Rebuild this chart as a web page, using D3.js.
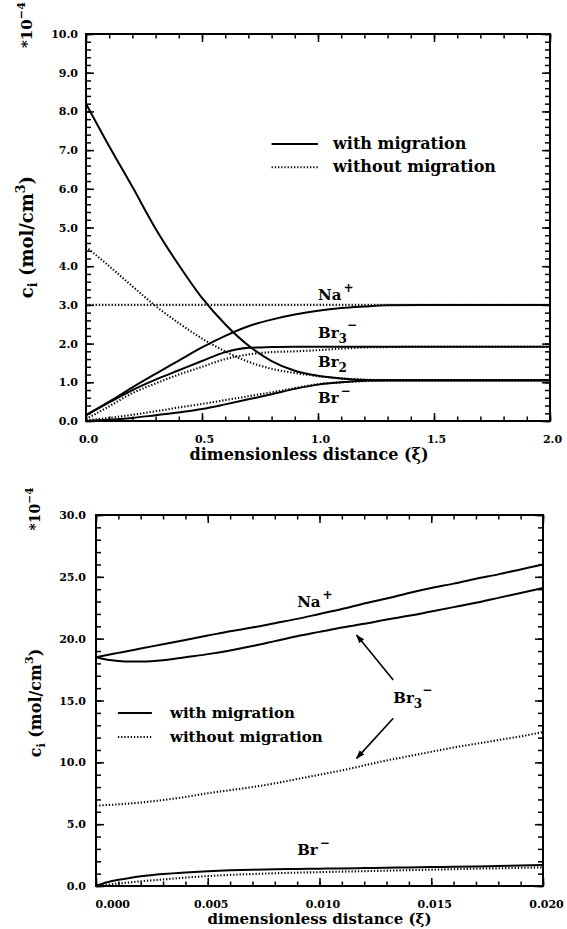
<!DOCTYPE html>
<html><head><meta charset="utf-8">
<script src="https://cdn.jsdelivr.net/npm/d3@7"></script>
<style>
body{margin:0;background:#fff}
svg text{font-family:"DejaVu Serif",serif;font-weight:bold;fill:#000}
.tick text{font-size:11px}
</style></head><body>
<svg id="c" width="567" height="929"></svg>
<script>
// ---------- top panel data (xi 0..2, c in 1e-4 mol/cm3) ----------
const xiTop = [0,0.1,0.2,0.3,0.4,0.5,0.6,0.7,0.8,0.9,1.0,1.1,1.2,1.3,1.5,2.0];
const naWithTop   = [0.15,0.5,0.87,1.22,1.56,1.9,2.2,2.45,2.62,2.75,2.85,2.92,2.96,2.99,3.0,3.0];
const naWithoutTop= [3.0,3.0,3.0,3.0,3.0,3.0,3.0,3.0,3.0,3.0,3.0,3.0,3.0,3.0,3.0,3.0];
const br3WithTop  = [0.15,0.48,0.8,1.07,1.31,1.55,1.78,1.89,1.91,1.92,1.92,1.92,1.92,1.92,1.92,1.92];
const br3WithoutTop=[0.05,0.38,0.72,0.97,1.2,1.4,1.6,1.72,1.78,1.8,1.83,1.87,1.9,1.91,1.92,1.92];
const br2WithTop  = [8.2,7.1,6.05,4.97,4.03,3.18,2.5,1.95,1.55,1.3,1.17,1.1,1.06,1.05,1.05,1.05];
const br2WithoutTop=[4.5,4.0,3.48,2.97,2.53,2.13,1.8,1.53,1.35,1.24,1.16,1.1,1.07,1.05,1.05,1.05];
const brWithTop   = [0.0,0.03,0.08,0.15,0.22,0.31,0.43,0.56,0.69,0.83,0.94,1.0,1.04,1.05,1.05,1.05];
const brWithoutTop= [0.02,0.08,0.16,0.25,0.35,0.44,0.54,0.64,0.74,0.85,0.95,1.0,1.03,1.05,1.05,1.05];
const xTicksTop = [0,0.5,1.0,1.5,2.0];
const yTicksTop = [0,1,2,3,4,5,6,7,8,9,10];

// ---------- bottom panel data (xi 0..0.02) ----------
const xiBot = [0,0.0005,0.001,0.0015,0.002,0.003,0.004,0.005,0.006,0.007,0.008,0.009,0.010,0.011,0.012,0.013,0.014,0.015,0.016,0.017,0.018,0.019,0.020];
const naWithBot   = [18.5,18.68,18.85,19.02,19.2,19.55,19.9,20.25,20.6,20.9,21.25,21.6,22.0,22.4,22.85,23.25,23.7,24.1,24.45,24.85,25.2,25.6,26.0];
const br3WithBot  = [18.5,18.3,18.2,18.15,18.15,18.25,18.5,18.75,19.05,19.4,19.8,20.2,20.55,20.9,21.2,21.55,21.85,22.2,22.55,22.9,23.3,23.7,24.1];
const br3WithoutBot=[6.5,6.55,6.6,6.67,6.75,6.95,7.2,7.5,7.75,8.0,8.3,8.65,9.0,9.35,9.75,10.15,10.5,10.85,11.2,11.5,11.8,12.1,12.45];
const brWithBot   = [0,0.3,0.5,0.65,0.78,0.97,1.1,1.2,1.27,1.32,1.36,1.38,1.4,1.42,1.45,1.48,1.5,1.53,1.55,1.58,1.62,1.66,1.7];
const brWithoutBot= [0,0.1,0.2,0.29,0.38,0.53,0.68,0.8,0.9,0.97,1.03,1.08,1.12,1.16,1.2,1.24,1.28,1.32,1.36,1.4,1.43,1.47,1.5];
const xTicksBot = [0,0.005,0.010,0.015,0.020];
const yTicksBot = [0,5,10,15,20,25,30];

const svg = d3.select("#c");
svg.append("defs").append("marker")
  .attr("id","arr").attr("viewBox","0 0 10 10").attr("refX",9).attr("refY",5)
  .attr("markerWidth",9).attr("markerHeight",9).attr("orient","auto-start-reverse")
  .attr("markerUnits","userSpaceOnUse")
  .append("path").attr("d","M0,1.5 L10,5 L0,8.5 Z").attr("fill","#000");

function panel(o){
  const x = d3.scaleLinear().domain(o.xd).range([o.l,o.r]);
  const y = d3.scaleLinear().domain(o.yd).range([o.b,o.t]);
  const g = svg.append("g");
  const minorX = x.ticks(20), minorY = y.ticks(o.ym);
  const clean = s => { s.select(".domain").remove(); s.selectAll(".tick line").attr("stroke-width",1.5); };
  g.append("g").attr("transform",`translate(0,${o.b})`).call(d3.axisBottom(x).tickValues(minorX).tickSize(-4.5).tickFormat("")).call(clean);
  g.append("g").attr("transform",`translate(0,${o.t})`).call(d3.axisTop(x).tickValues(minorX).tickSize(-4.5).tickFormat("")).call(clean);
  g.append("g").attr("transform",`translate(${o.l},0)`).call(d3.axisLeft(y).tickValues(minorY).tickSize(-5).tickFormat("")).call(clean);
  g.append("g").attr("transform",`translate(${o.r},0)`).call(d3.axisRight(y).tickValues(minorY).tickSize(-5).tickFormat("")).call(clean);
  const bx = g.append("g").attr("transform",`translate(0,${o.b})`)
    .call(d3.axisBottom(x).tickValues(o.xt).tickSize(-8).tickPadding(14).tickFormat(d3.format(o.xf))).call(clean);
  bx.selectAll(".tick text").attr("dx",o.xdx);
  if(o.firstStart) bx.select(".tick text").attr("text-anchor","start").attr("dx",-1);
  g.append("g").attr("transform",`translate(0,${o.t})`).call(d3.axisTop(x).tickValues(o.xt).tickSize(-8).tickFormat("")).call(clean);
  g.append("g").attr("transform",`translate(${o.l},0)`)
    .call(d3.axisLeft(y).tickValues(o.yt).tickSize(-8).tickPadding(o.ypad).tickFormat(d3.format(".1f"))).call(clean);
  g.append("g").attr("transform",`translate(${o.r},0)`).call(d3.axisRight(y).tickValues(o.yt).tickSize(-8).tickFormat("")).call(clean);
  g.append("rect").attr("x",o.l).attr("y",o.t).attr("width",o.r-o.l).attr("height",o.b-o.t)
    .attr("fill","none").attr("stroke","#000").attr("stroke-width",2);
  const line = d3.line().x((d,i)=>x(o.xs[i])).y(d=>y(d)).curve(d3.curveMonotoneX);
  o.series.forEach(s=>{
    g.append("path").attr("d",line(s.v)).attr("fill","none").attr("stroke","#000")
      .attr("stroke-width",s.dot?2.1:2).attr("stroke-dasharray",s.dot?"1.3,1.9":null);
  });
  return {g,x,y};
}

function chemLabel(g, px, py, base, sub, sup, fs){
  const t = g.append("text").attr("x",px).attr("y",py).style("font-size",fs+"px").text(base);
  if(sub) t.append("tspan").attr("dy",5).style("font-size",(fs*0.8)+"px").text(sub);
  if(sup) t.append("tspan").attr("dy",sub?-14:-8).attr("dx",sub?0:2).style("font-size",(fs*0.8)+"px").text(sup);
  return t;
}

function yTitle(px, py, fs){
  const t = svg.append("text").attr("transform",`translate(${px},${py}) rotate(-90)`)
    .attr("text-anchor","middle").style("font-size",fs+"px").text("c");
  t.append("tspan").attr("dy",4).style("font-size",(fs*0.7)+"px").text("i");
  t.append("tspan").attr("dy",-4).text(" (mol/cm");
  t.append("tspan").attr("dy",-8).style("font-size",(fs*0.7)+"px").text("3");
  t.append("tspan").attr("dy",8).text(")");
}
function scaleNote(px, py, fs){
  const t = svg.append("text").attr("transform",`translate(${px},${py}) rotate(-90)`)
    .attr("text-anchor","middle").style("font-size",fs+"px").text("*10");
  t.append("tspan").attr("dy",-7).style("font-size",(fs*0.75)+"px").text("−4");
}
function legend(p, x1, x2, yA, yB, xt, fs){
  const g=p.g, x=p.x, y=p.y;
  g.append("line").attr("x1",x(x1)).attr("x2",x(x2)).attr("y1",y(yA)).attr("y2",y(yA)).attr("stroke","#000").attr("stroke-width",2);
  g.append("line").attr("x1",x(x1)).attr("x2",x(x2)).attr("y1",y(yB)).attr("y2",y(yB)).attr("stroke","#000").attr("stroke-width",2).attr("stroke-dasharray","1.3,1.9");
  g.append("text").attr("x",x(xt)).attr("y",y(yA)+5).style("font-size",fs+"px").text("with migration");
  g.append("text").attr("x",x(xt)).attr("y",y(yB)+5).style("font-size",fs+"px").text("without migration");
}

// ---------- TOP ----------
const topP = panel({xd:[0,2],yd:[0,10],l:86,r:550,t:34,b:421,ym:50,xt:xTicksTop,yt:yTicksTop,xf:".1f",xdx:2,ypad:8,
  xs:xiTop, series:[
    {v:naWithTop},{v:naWithoutTop,dot:1},{v:br3WithTop},{v:br3WithoutTop,dot:1},
    {v:br2WithTop},{v:br2WithoutTop,dot:1},{v:brWithTop},{v:brWithoutTop,dot:1}]});
legend(topP, 0.80, 1.0, 7.16, 6.56, 1.065, 16);
chemLabel(topP.g, topP.x(1.0), topP.y(3.13), "Na", null, "+", 15);
chemLabel(topP.g, topP.x(1.0), topP.y(2.14), "Br", "3", "−", 15);
chemLabel(topP.g, topP.x(1.0), topP.y(1.40), "Br", "2", null, 15);
chemLabel(topP.g, topP.x(1.0), topP.y(0.47), "Br", null, "−", 15);
topP.g.append("text").attr("x",(topP.x(0)+topP.x(2))/2-9).attr("y",460).attr("text-anchor","middle")
  .style("font-size","16px").text("dimensionless distance (ξ)");
yTitle(33, 237, 18);
scaleNote(32, 25, 15);

// ---------- BOTTOM ----------
const botP = panel({xd:[0,0.02],yd:[0,30],l:96,r:543,t:515,b:886,ym:30,xt:xTicksBot,yt:yTicksBot,xf:".3f",xdx:3,ypad:10,firstStart:1,
  xs:xiBot, series:[
    {v:naWithBot},{v:br3WithBot},{v:br3WithoutBot,dot:1},{v:brWithBot},{v:brWithoutBot,dot:1}]});
legend(botP, 0.00098, 0.0025, 13.99, 12.05, 0.00331, 15);
chemLabel(botP.g, botP.x(0.009), botP.y(22.55), "Na", null, "+", 15);
chemLabel(botP.g, botP.x(0.0133), botP.y(14.8), "Br", "3", "−", 15);
chemLabel(botP.g, botP.x(0.009), botP.y(2.5), "Br", null, "−", 15);
botP.g.append("line").attr("x1",botP.x(0.0133)).attr("y1",botP.y(16.65)).attr("x2",botP.x(0.01166)).attr("y2",botP.y(20.29))
  .attr("stroke","#000").attr("stroke-width",1.6).attr("marker-end","url(#arr)");
botP.g.append("line").attr("x1",botP.x(0.0133)).attr("y1",botP.y(13.56)).attr("x2",botP.x(0.01166)).attr("y2",botP.y(10.32))
  .attr("stroke","#000").attr("stroke-width",1.6).attr("marker-end","url(#arr)");
botP.g.append("text").attr("x",(botP.x(0)+botP.x(0.02))/2).attr("y",924).attr("text-anchor","middle")
  .style("font-size","15px").text("dimensionless distance (ξ)");
yTitle(41, 703, 16);
scaleNote(40, 509, 14);
</script></body></html>
